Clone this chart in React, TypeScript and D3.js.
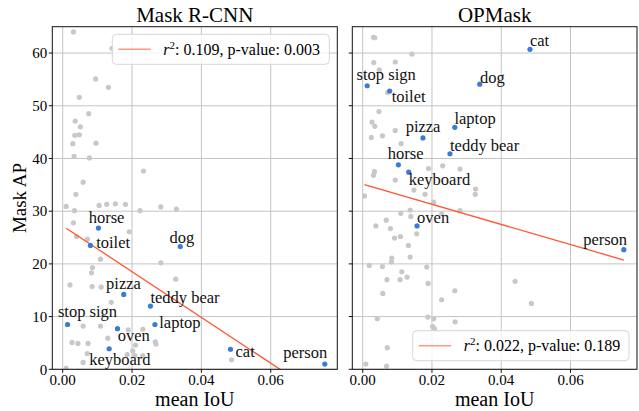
import * as React from "react";
import * as d3 from "d3";

// highlighted classes
const categories = ["horse", "toilet", "dog", "pizza", "teddy bear", "stop sign", "laptop", "oven", "keyboard", "cat", "person"];
const maskRcnnIoU = [0.0103, 0.008, 0.0339, 0.0176, 0.0253, 0.0014, 0.0266, 0.0158, 0.0134, 0.0484, 0.0756];
const maskRcnnAP = [26.8, 23.5, 23.3, 14.2, 12.0, 8.5, 8.5, 7.7, 3.9, 3.8, 1.0];
const opMaskIoU = [0.0103, 0.0078, 0.0338, 0.0174, 0.0252, 0.0013, 0.0266, 0.0157, 0.0133, 0.0483, 0.0754];
const opMaskAP = [38.8, 52.8, 54.1, 43.9, 40.9, 53.8, 45.9, 27.2, 37.4, 60.7, 22.7];

// remaining classes [mean IoU, mask AP]
const maskRcnnOthers: [number, number][] = [
  [0.0031, 64.0], [0.0142, 60.9], [0.0095, 55.1], [0.0132, 53.5], [0.0048, 51.6],
  [0.0075, 48.5], [0.0036, 47.1], [0.0051, 46.0], [0.0035, 44.4], [0.0048, 44.5],
  [0.0029, 42.8], [0.0096, 42.9], [0.0033, 40.4], [0.0077, 40.1], [0.0233, 37.6],
  [0.0059, 35.5], [0.0038, 33.2], [0.001, 30.9], [0.0034, 30.1], [0.0105, 31.1],
  [0.0127, 31.3], [0.0152, 31.4], [0.0181, 31.3], [0.0223, 30.1], [0.0283, 30.8],
  [0.0328, 30.4], [0.0031, 27.8], [0.004, 25.2], [0.0192, 26.1], [0.0071, 24.7],
  [0.0109, 20.9], [0.0086, 19.3], [0.0083, 18.3], [0.0283, 20.2], [0.0326, 17.1],
  [0.0021, 16.0], [0.0085, 15.7], [0.0111, 15.6], [0.014, 12.7], [0.0059, 8.2],
  [0.0109, 8.2], [0.0189, 7.5], [0.0231, 7.6], [0.0027, 5.1], [0.0044, 4.9],
  [0.0073, 4.9], [0.013, 5.9], [0.021, 4.6], [0.0267, 5.2], [0.0269, 4.8],
  [0.0202, 3.5], [0.0071, 3.0], [0.0186, 2.8], [0.0208, 2.6], [0.0231, 2.6],
  [0.0059, 1.3], [0.001, 0.2], [0.0487, 1.8],
];
const opMaskOthers: [number, number][] = [
  [0.0031, 63.0], [0.0035, 62.9], [0.0142, 59.8], [0.0032, 58.2], [0.0094, 58.3],
  [0.0048, 56.8], [0.0072, 52.5], [0.0047, 48.9], [0.0027, 46.9], [0.0035, 46.1],
  [0.0094, 45.3], [0.0025, 44.0], [0.0057, 44.3], [0.0111, 42.8], [0.019, 38.1],
  [0.0231, 38.6], [0.0281, 38.0], [0.0034, 37.5], [0.0031, 36.8], [0.0094, 35.9],
  [0.0326, 34.2], [0.0325, 33.2], [0.018, 33.2], [0.0148, 34.0], [0.0005, 32.9],
  [0.044, 16.7], [0.0487, 12.5], [0.0205, 31.7], [0.0228, 29.5], [0.0281, 30.1],
  [0.011, 29.6], [0.0137, 30.2], [0.0139, 29.0], [0.0068, 28.3], [0.0038, 27.2],
  [0.008, 26.7], [0.0156, 25.7], [0.0092, 24.9], [0.0109, 25.2], [0.0132, 23.5],
  [0.0084, 21.1], [0.0137, 21.3], [0.0083, 20.4], [0.0019, 19.7], [0.0057, 19.5],
  [0.0185, 19.4], [0.0113, 18.5], [0.007, 17.0], [0.0108, 17.0], [0.0128, 17.5],
  [0.0189, 16.3], [0.0266, 14.9], [0.0058, 14.4], [0.0228, 13.2], [0.0042, 9.6],
  [0.0188, 9.9], [0.0205, 9.6], [0.0267, 9.0], [0.0202, 8.1], [0.0207, 7.7],
  [0.0071, 4.1], [0.0009, 1.0], [0.0069, 0.6],
];

// linear fits [intercept, slope] and stats
const maskRcnnFit = [27.2, -434];
const opMaskFit = [35.13, -191];
const maskRcnnStats = ["0.109", "0.003"];
const opMaskStats = ["0.022", "0.189"];

const xTicks = [0, 0.02, 0.04, 0.06];
const yTicks = [0, 10, 20, 30, 40, 50, 60];

// label placement in px relative to the dot
const maskRcnnLabelOffsets: Record<string, [number, number]> = {
  horse: [-9.7, -4.7], toilet: [5.7, 2.6], dog: [-10.7, -3.4], pizza: [-17.6, -5.7],
  "teddy bear": [0, -3], "stop sign": [-9.6, -7], laptop: [4.3, 4], oven: [0.3, 12],
  keyboard: [-20, 16.3], cat: [5, 8], person: [-41.6, -5.7],
};
const opMaskLabelOffsets: Record<string, [number, number]> = {
  horse: [-10.6, -5.7], toilet: [2, 10.7], dog: [0.3, -1.6], pizza: [-17.3, -5.7],
  "teddy bear": [0, -3], "stop sign": [-10.6, -5.7], laptop: [-0.4, -3], oven: [0, -3],
  keyboard: [0, 12.7], cat: [0, -3], person: [-40.7, -4.7],
};

const W = 639;
const H = 411;
const top = 26.7;
const bottom = 369.3;
const FONT = "'Liberation Serif', 'DejaVu Serif', serif";
const BLUE = "#3a7bd5";
const GREY = "#c8c8c8";
const RED = "#ff5533";

function Legend(props: { x: number; y: number; w: number; stats: string[] }) {
  const { x, y, w, stats } = props;
  return (
    <g transform={`translate(${x},${y})`}>
      <rect width={w} height={30} rx={4} fill="white" fillOpacity={0.8} stroke="#d6d6d6" />
      <line x1={6} x2={38.5} y1={15} y2={15} stroke={RED} strokeOpacity={0.6} strokeWidth={1.5} />
      <text x={51} y={20.5} fontSize={16} fontFamily={FONT}>
        <tspan fontStyle="italic">r</tspan>
        <tspan dy={-6} fontSize={11}>2</tspan>
        <tspan dy={6}>{`: ${stats[0]}, p-value: ${stats[1]}`}</tspan>
      </text>
    </g>
  );
}

function Panel(props: {
  title: string;
  left: number;
  right: number;
  iou: number[];
  ap: number[];
  others: [number, number][];
  fit: number[];
  stats: string[];
  offsets: Record<string, [number, number]>;
  legendBox: number[];
  showY: boolean;
  id: string;
}) {
  const { title, left, right, iou, ap, others, fit, stats, offsets, legendBox, showY, id } = props;
  const x = d3.scaleLinear().domain([-0.003, 0.0792]).range([left, right]);
  const y = d3.scaleLinear().domain([0, 65]).range([bottom, top]);
  const allX = others.map((d) => d[0]).concat(iou);
  const [xmin, xmax] = d3.extent(allX) as [number, number];
  const fitLine = d3
    .line<number>()
    .x((d) => x(d))
    .y((d) => y(fit[0] + fit[1] * d));
  return (
    <g>
      <defs>
        <clipPath id={id}>
          <rect x={left} y={top} width={right - left} height={bottom - top} />
        </clipPath>
      </defs>
      {/* grid */}
      {xTicks.map((t) => (
        <line key={"gx" + t} x1={x(t)} x2={x(t)} y1={top} y2={bottom} stroke="#c4c4c4" strokeWidth={1} />
      ))}
      {yTicks.map((t) => (
        <line key={"gy" + t} x1={left} x2={right} y1={y(t)} y2={y(t)} stroke="#c4c4c4" strokeWidth={1} />
      ))}
      <g clipPath={`url(#${id})`}>
        {others.map((d, i) => (
          <circle key={"o" + i} cx={x(d[0])} cy={y(d[1])} r={2.6} fill={GREY} />
        ))}
        <path d={fitLine([xmin, xmax]) || ""} stroke={RED} strokeWidth={1.3} fill="none" />
        {categories.map((c, i) => (
          <circle key={c} cx={x(iou[i])} cy={y(ap[i])} r={2.6} fill={BLUE} />
        ))}
      </g>
      {categories.map((c, i) => (
        <text
          key={"t" + c}
          x={x(iou[i]) + offsets[c][0]}
          y={y(ap[i]) + offsets[c][1]}
          fontSize={16.5}
          fontFamily={FONT}
          fill="#111"
        >
          {c}
        </text>
      ))}
      <Legend x={legendBox[0]} y={legendBox[1]} w={legendBox[2]} stats={stats} />
      {/* frame */}
      <rect x={left} y={top} width={right - left} height={bottom - top} fill="none" stroke="#111" strokeWidth={1} />
      {/* ticks */}
      {xTicks.map((t) => (
        <g key={"xt" + t}>
          <line x1={x(t)} x2={x(t)} y1={bottom} y2={bottom + 3.5} stroke="#111" />
          <text x={x(t)} y={bottom + 15.5} fontSize={15} fontFamily={FONT} textAnchor="middle">
            {d3.format(".2f")(t)}
          </text>
        </g>
      ))}
      {yTicks.map((t) => (
        <g key={"yt" + t}>
          <line x1={left - 3.5} x2={left} y1={y(t)} y2={y(t)} stroke="#111" />
          {showY && (
            <text x={left - 5} y={y(t)} dy="0.35em" fontSize={15} fontFamily={FONT} textAnchor="end">
              {t}
            </text>
          )}
        </g>
      ))}
      <text x={(left + right) / 2} y={22} fontSize={21} fontFamily={FONT} textAnchor="middle">
        {title}
      </text>
      <text x={(left + right) / 2} y={406} fontSize={20} fontFamily={FONT} textAnchor="middle">
        mean IoU
      </text>
    </g>
  );
}

export default function App() {
  return (
    <svg
      width={W}
      height={H}
      viewBox={`0 0 ${W} ${H}`}
      style={{ position: "absolute", left: 0, top: 0, background: "white" }}
    >
      <rect width={W} height={H} fill="white" />
      <Panel
        id="clipA"
        title="Mask R-CNN"
        left={52.3}
        right={337.3}
        iou={maskRcnnIoU}
        ap={maskRcnnAP}
        others={maskRcnnOthers}
        fit={maskRcnnFit}
        stats={maskRcnnStats}
        offsets={maskRcnnLabelOffsets}
        legendBox={[112.3, 34.3, 217]}
        showY={true}
      />
      <Panel
        id="clipB"
        title="OPMask"
        left={352.3}
        right={637}
        iou={opMaskIoU}
        ap={opMaskAP}
        others={opMaskOthers}
        fit={opMaskFit}
        stats={opMaskStats}
        offsets={opMaskLabelOffsets}
        legendBox={[412.7, 330.7, 216.3]}
        showY={false}
      />
      <text transform={`translate(26,198) rotate(-90)`} fontSize={19} fontFamily={FONT} textAnchor="middle">
        Mask AP
      </text>
    </svg>
  );
}
